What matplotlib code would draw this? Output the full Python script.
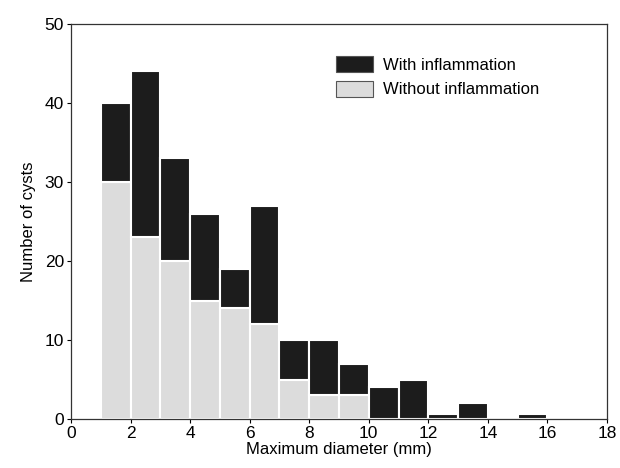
import numpy as np
import matplotlib
matplotlib.use('Agg')
import matplotlib.pyplot as plt

plt.rcParams['font.family'] = ['Liberation Sans', 'DejaVu Sans']

# bins of 1 mm, left edges
bin_left = [1, 2, 3, 4, 5, 6, 7, 8, 9, 10, 11, 12, 13, 14, 15]
without_infl = [30, 23, 20, 15, 14, 12, 5, 3, 3, 0, 0, 0, 0, 0, 0]
with_infl = [10, 21, 13, 11, 5, 15, 5, 7, 4, 4, 5, 0.6, 2, 0, 0.6]

dark = '#1c1c1c'
light = '#dcdcdc'

fig = plt.figure(figsize=(6.2, 4.68), dpi=100)
ax = fig.add_axes([0.1145, 0.1047, 0.8645, 0.844])

ax.bar(bin_left, without_infl, width=1, align='edge', color=light,
       edgecolor='white', linewidth=1.5, label='Without inflammation', zorder=2)
ax.bar(bin_left, with_infl, width=1, align='edge', bottom=without_infl, color=dark,
       edgecolor='white', linewidth=1.5, label='With inflammation', zorder=2)

ax.set_xlim(0, 18)
ax.set_ylim(0, 50)
ax.set_xticks(np.arange(0, 19, 2))
ax.set_yticks(np.arange(0, 51, 10))
ax.tick_params(direction='out', length=3, width=0.8, labelsize=12.5, pad=2)
for s in ax.spines.values():
    s.set_linewidth(0.9)
    s.set_color('#333333')

ax.set_xlabel('Maximum diameter (mm)', fontsize=12, labelpad=1)
ax.set_ylabel('Number of cysts', fontsize=12, labelpad=6)

h, l = ax.get_legend_handles_labels()
leg = ax.legend(h[::-1], l[::-1], loc='upper left', bbox_to_anchor=(0.482, 0.935),
                frameon=False, fontsize=12, handlelength=2.2, handleheight=1.1,
                handletextpad=0.6, labelspacing=0.45, borderaxespad=0)
for p in leg.get_patches():
    p.set_edgecolor('#555555')
    p.set_linewidth(0.8)

fig.savefig('out.png', dpi=100)
